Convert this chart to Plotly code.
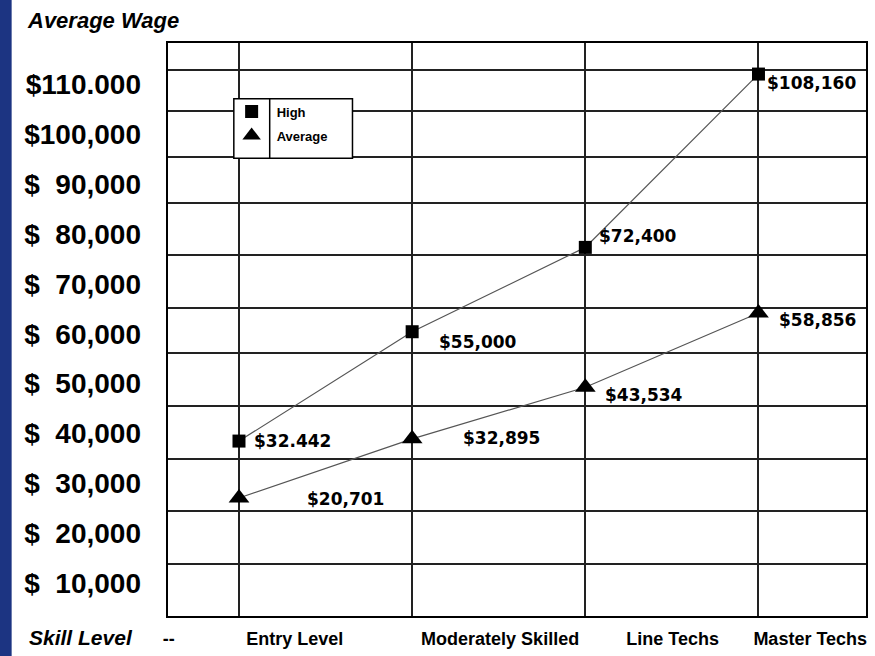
import plotly.graph_objects as go

# ---- data ----
categories = ["Entry Level", "Moderately Skilled", "Line Techs", "Master Techs"]
high_values = [32442, 55000, 72400, 108160]
avg_values = [20701, 32895, 43534, 58856]
high_labels = ["$32.442", "$55,000", "$72,400", "$108,160"]
avg_labels = ["$20,701", "$32,895", "$43,534", "$58,856"]

# y tick labels (left axis)
ytick_values = [10000, 20000, 30000, 40000, 50000, 60000, 70000, 80000, 90000, 100000, 110000]
ytick_text = ["$\u00a0\u00a010,000", "$\u00a0\u00a020,000", "$\u00a0\u00a030,000", "$\u00a0\u00a040,000",
              "$\u00a0\u00a050,000", "$\u00a0\u00a060,000", "$\u00a0\u00a070,000", "$\u00a0\u00a080,000",
              "$\u00a0\u00a090,000", "$100,000", "$110.000"]
# horizontal grid lines (data axis units, as drawn in the original)
ygrid_values = [7000, 18100, 28700, 39600, 50600, 59900, 70900, 81600, 91000, 100600, 109000]

# x labels
xlabel_text = ["--", "Entry Level", "Moderately Skilled", "Line Techs", "Master Techs"]
xlabel_pos = [-0.405, 0.322, 1.508, 2.504, 3.299]

X_RANGE = [-0.41, 3.621]
Y_DATA_RANGE = [-3650, 114570]
Y_LABEL_RANGE = [3400, 118290]

fig = go.Figure()

fig.add_trace(go.Scatter(
    x=categories, y=high_values, name="High", mode="lines+markers",
    line=dict(color="#555555", width=1.2),
    marker=dict(symbol="square", size=13, color="black"),
    xaxis="x", yaxis="y", showlegend=False,
))
fig.add_trace(go.Scatter(
    x=categories, y=avg_values, name="Average", mode="lines+markers",
    line=dict(color="#555555", width=1.2),
    marker=dict(symbol="triangle-up", size=18, color="black"),
    xaxis="x", yaxis="y", showlegend=False,
))
# legend entries (markers only, as in the original legend)
pad = "\u00a0" * 6
fig.add_trace(go.Scatter(x=[None], y=[None], name="<b>High</b>" + pad, mode="markers",
                         marker=dict(symbol="square", size=13, color="black"),
                         xaxis="x", yaxis="y", legendgroup="g1"))
fig.add_trace(go.Scatter(x=[None], y=[None], name="<b>Average</b>" + pad, mode="markers",
                         marker=dict(symbol="triangle-up", size=18, color="black"),
                         xaxis="x", yaxis="y", legendgroup="g2"))
# registers the label axes (x2/y2) so they are drawn
fig.add_trace(go.Scatter(x=[None], y=[None], mode="markers", xaxis="x2", yaxis="y2",
                         showlegend=False, hoverinfo="skip", marker=dict(opacity=0)))

label_font = dict(family="DejaVu Sans", size=17, color="black")
high_shift = [(54, 0), (66, -10), (53, 11), (53, -9)]
avg_shift = [(107, -1), (89, 1), (59, -8), (59, -7)]
anns = []
for c, v, t, (dx, dy) in zip(categories, high_values, high_labels, high_shift):
    anns.append(dict(x=c, y=v, xref="x", yref="y", text="<b>%s</b>" % t, showarrow=False,
                     xshift=dx, yshift=dy, font=label_font))
for c, v, t, (dx, dy) in zip(categories, avg_values, avg_labels, avg_shift):
    anns.append(dict(x=c, y=v, xref="x", yref="y", text="<b>%s</b>" % t, showarrow=False,
                     xshift=dx, yshift=dy, font=label_font))

anns.append(dict(x=-0.2, y=1.0, xref="paper", yref="paper", xanchor="left", yanchor="bottom",
                 xshift=-3, yshift=8, showarrow=False,
                 text="<b><i>Average Wage</i></b>",
                 font=dict(family="Liberation Sans", size=22, color="black")))
anns.append(dict(x=-0.2, y=0, xref="paper", yref="paper", xanchor="left", yanchor="top",
                 xshift=-1, yshift=-8, showarrow=False,
                 text="<b><i>Skill Level</i></b>",
                 font=dict(family="Liberation Sans", size=21, color="black")))

# legend frame (drawn as shapes so the inner divider is visible)
LEG_X0, LEG_X1, LEG_XD = 0.0943, 0.2643, 0.1457
LEG_Y0, LEG_Y1 = 0.799, 0.9029

fig.update_layout(
    width=875, height=656,
    margin=dict(l=168, r=7, t=43, b=36),
    paper_bgcolor="white", plot_bgcolor="white",
    font=dict(family="Liberation Sans", color="black"),
    showlegend=True,
    legend=dict(x=0.084, y=0.9064, xanchor="left", yanchor="top",
                bgcolor="rgba(0,0,0,0)", borderwidth=0,
                font=dict(family="Liberation Sans", size=13, color="black"),
                itemwidth=40, tracegroupgap=4),
    xaxis=dict(type="category", categoryorder="array", categoryarray=categories,
               range=X_RANGE, showgrid=True, gridcolor="#222222", gridwidth=1.5,
               showticklabels=False, ticks="", showline=True, mirror=True,
               linecolor="black", linewidth=2, zeroline=False),
    xaxis2=dict(overlaying="x", anchor="y2", side="bottom", range=X_RANGE,
                tickmode="array", tickvals=xlabel_pos,
                ticktext=["<b>%s</b>" % t for t in xlabel_text],
                showgrid=False, zeroline=False, showline=False, ticks="",
                tickfont=dict(family="Liberation Sans", size=18, color="black"),
                ticklabelstandoff=10),
    yaxis=dict(range=Y_DATA_RANGE, tickmode="array", tickvals=ygrid_values,
               showticklabels=False, showgrid=True, gridcolor="#222222", gridwidth=1.5,
               ticks="", showline=True, mirror=True, linecolor="black", linewidth=2,
               zeroline=False),
    yaxis2=dict(overlaying="y", anchor="x2", side="left", range=Y_LABEL_RANGE,
                tickmode="array", tickvals=ytick_values,
                ticktext=["<b>%s</b>" % t for t in ytick_text],
                showgrid=False, zeroline=False, showline=False, ticks="",
                tickfont=dict(family="Liberation Sans", size=28, color="black"),
                ticklabelstandoff=26),
    annotations=anns,
    shapes=[
        dict(type="rect", xref="paper", yref="paper", x0=-0.245, x1=-0.224,
             y0=-0.1, y1=1.1, fillcolor="#1c3482", line=dict(width=0), layer="above"),
        dict(type="rect", xref="paper", yref="paper", x0=LEG_X0, x1=LEG_X1,
             y0=LEG_Y0, y1=LEG_Y1, fillcolor="white",
             line=dict(color="black", width=1.5), layer="above"),
        dict(type="line", xref="paper", yref="paper", x0=LEG_XD, x1=LEG_XD,
             y0=LEG_Y0, y1=LEG_Y1, line=dict(color="black", width=1.5), layer="above"),
    ],
)

fig.write_html("out.html", config={"displayModeBar": False})

# remove the browser's default page margin so the figure starts at the window's corner
with open("out.html", "r", encoding="utf-8") as f:
    html = f.read()
html = html.replace("<head>", "<head><style>html,body{margin:0;padding:0;overflow:hidden;}</style>", 1)
with open("out.html", "w", encoding="utf-8") as f:
    f.write(html)
